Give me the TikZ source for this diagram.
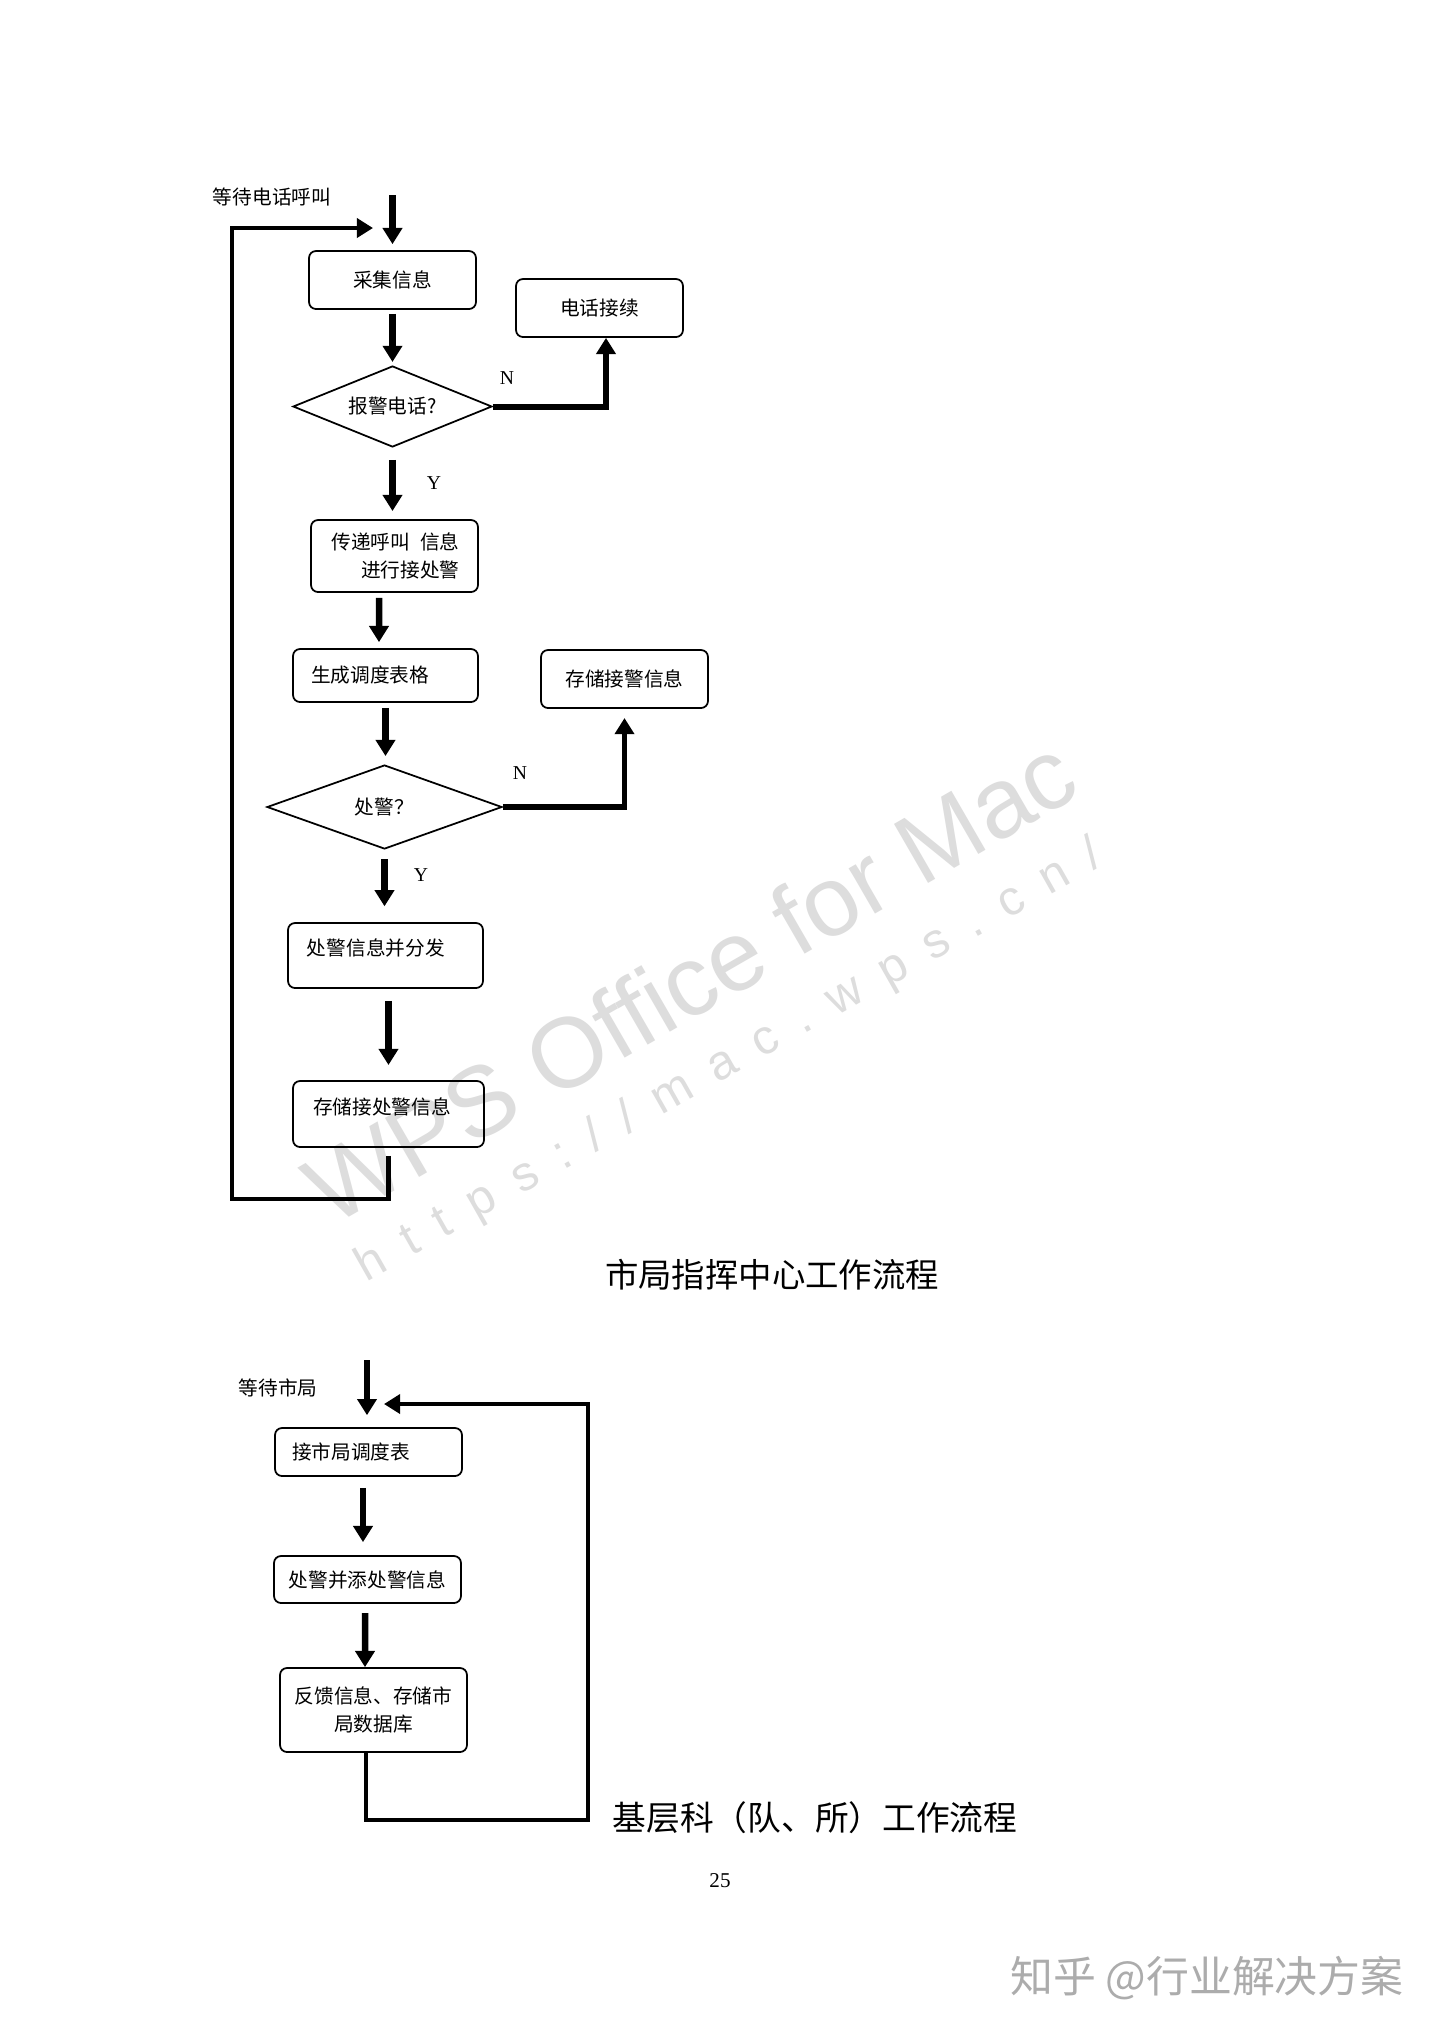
\documentclass[tikz,border=0pt]{standalone}
\usepackage{fontspec}
\setmainfont{Liberation Serif}
\newfontfamily\cjk{Noto Sans CJK SC}
\newfontfamily\wmfont{Liberation Sans}
\newfontfamily\wmurl[LetterSpace=49]{Liberation Sans}
\usepackage{xcolor}
\usepackage{tikz}
\usetikzlibrary{positioning, arrows.meta, shapes.geometric, calc}
\definecolor{wmgray}{RGB}{221,221,221}
\definecolor{zhgray}{RGB}{172,172,172}
\tikzset{
  box/.style     ={draw, line width=0.5pt, rounded corners=2pt, align=center, inner sep=0pt,
                   minimum width=1.67cm, minimum height=0.58cm,
                   font=\cjk\fontsize{5.6pt}{8pt}\selectfont},
  choice/.style  ={draw, line width=0.5pt, diamond, shape aspect=2.4, inner sep=0pt,
                   font=\cjk\fontsize{5.6pt}{8pt}\selectfont},
  flow/.style    ={-{Triangle[length=4.6pt, width=5.4pt]}, line width=1.85pt},
  backline/.style={-{Triangle[length=4.6pt, width=5.4pt]}, line width=1.3pt},
  lbl/.style     ={inner sep=0pt, font=\fontsize{5.6pt}{7pt}\selectfont},
  note/.style    ={inner sep=0pt, font=\cjk\fontsize{5.6pt}{7pt}\selectfont},
  heading/.style ={inner sep=0pt, font=\cjk\fontsize{9.5pt}{11pt}\selectfont},
}

\begin{document}
\begin{tikzpicture}
  \fill[white] (0,0) rectangle (14.40,-20.37);
  \useasboundingbox (0,0) rectangle (14.40,-20.37);

  % watermarks
  \node[rotate=30, text=wmgray, inner sep=0pt, font=\wmfont\fontsize{28.2pt}{30pt}\selectfont] (wps) at (6.90,-9.80) {WPS Office for Mac};
  \node[rotate=29.5, text=wmgray, inner sep=0pt, font=\wmurl\fontsize{13.9pt}{15pt}\selectfont] (url) at (7.30,-10.62) {https://mac.wps.cn/};
  \node[text=zhgray, inner sep=0pt, font=\cjk\fontsize{12.2pt}{14pt}\selectfont] (zhihu) at (12.07,-19.78) {知乎 @行业解决方案};

  % city command centre
  \node[note] (wait1) at (2.72,-1.97) {等待电话呼叫};
  \coordinate (in1) at (3.925,-1.95);
  \node[box] (collect) at (3.925,-2.80) {采集信息};
  \node[box] (connect) at (5.995,-3.08) {电话接续};
  \node[choice, minimum width=1.99cm, minimum height=0.81cm] (isalarm) at (3.925,-4.065) {报警电话?};
  \node[box, minimum height=0.72cm, text width=1.30cm, inner xsep=0.185cm, align=right] (pass) at (3.945,-5.56) {传递呼叫\kern0.5em信息\\进行接处警};
  \node[box, minimum height=0.53cm, text width=1.49cm, inner xsep=0.18cm, align=left] (table) at (3.855,-6.755) {生成调度表格};
  \node[box] (store1) at (6.245,-6.79) {存储接警信息};
  \node[choice, minimum width=2.35cm, minimum height=0.84cm] (handle) at (3.845,-8.07) {处警？};
  \node[box, minimum height=0.65cm, text width=1.57cm, inner xsep=0.19cm, align=left, text depth=0.165cm] (dispatch) at (3.855,-9.555) {处警信息并分发};
  \node[box, minimum height=0.66cm, text width=1.51cm, inner xsep=0.20cm, align=left, text depth=0.153cm] (store2) at (3.885,-11.14) {存储接处警信息};

  \draw[flow, shorten >=1.7pt] (in1) -- (collect.north);
  \draw[flow, shorten <=1.1pt, shorten >=0.9pt] (collect.south) -- (isalarm.north);
  \draw[flow, line width=1.7pt] (isalarm.east) -| ([xshift=0.065cm]connect.south);
  \node[lbl] (n1) at ([shift={(0.14,0.28)}]isalarm.east) {N};
  \draw[flow, shorten <=3.4pt, shorten >=2.3pt] (isalarm.south) -- (isalarm.south |- pass.north) node[lbl, midway, right=0.31cm] (y1) {Y};
  \draw[flow, shorten <=1.4pt, shorten >=1.7pt] ([xshift=-0.155cm]pass.south) -- ([xshift=-0.065cm]table.north);
  \draw[flow, shorten <=1.4pt, shorten >=2.3pt] (table.south) -- (table.south |- handle.north);
  \draw[flow, line width=1.7pt, shorten >=2.6pt] (handle.east) -| (store1.south);
  \node[lbl] (n2) at ([shift={(0.17,0.34)}]handle.east) {N};
  \draw[flow, shorten <=2.6pt, shorten >=4.5pt] (handle.south) -- (handle.south |- dispatch.north) node[lbl, pos=0.35, right=0.26cm] (y2) {Y};
  \draw[flow, shorten <=3.4pt, shorten >=4.3pt] (store2.north |- dispatch.south) -- (store2.north);

  \coordinate (left1) at (2.32,-11.99);
  \coordinate (back1) at (3.73,-2.28);
  \draw[backline, shorten <=2.3pt] (store2.south) |- (left1) |- (back1);

  \node[heading] (title1) at (7.72,-12.75) {市局指挥中心工作流程};

  % district units
  \node[note] (wait2) at (2.78,-13.88) {等待市局};
  \coordinate (in2) at (3.67,-13.60);
  \node[box, minimum height=0.48cm, text width=1.53cm, inner xsep=0.17cm, align=left] (recv) at (3.685,-14.52) {接市局调度表};
  \node[box, minimum width=1.87cm, minimum height=0.47cm] (addinfo) at (3.675,-15.795) {处警并添处警信息};
  \node[box, minimum width=1.87cm, minimum height=0.84cm] (feedback) at (3.735,-17.10) {反馈信息、存储市\\局数据库};

  \draw[flow, shorten >=3.4pt] (in2) -- (in2 |- recv.north);
  \draw[flow, shorten <=3.1pt, shorten >=3.7pt] ([xshift=-0.055cm]recv.south) -- ([xshift=-0.045cm]addinfo.north);
  \draw[flow, shorten <=2.6pt] ([xshift=-0.025cm]addinfo.south) -- ([xshift=-0.085cm]feedback.north);

  \coordinate (right2) at (5.88,-18.20);
  \coordinate (back2) at (3.84,-14.04);
  \draw[backline] ([xshift=-0.075cm]feedback.south) |- (right2) |- (back2);

  \node[heading, font=\cjk\fontsize{9.6pt}{11pt}\selectfont] (title2) at (8.15,-18.18) {基层科（队、所）工作流程};
  \node[lbl, font=\fontsize{6pt}{7pt}\selectfont] (page) at (7.20,-18.81) {25};
\end{tikzpicture}
\end{document}
